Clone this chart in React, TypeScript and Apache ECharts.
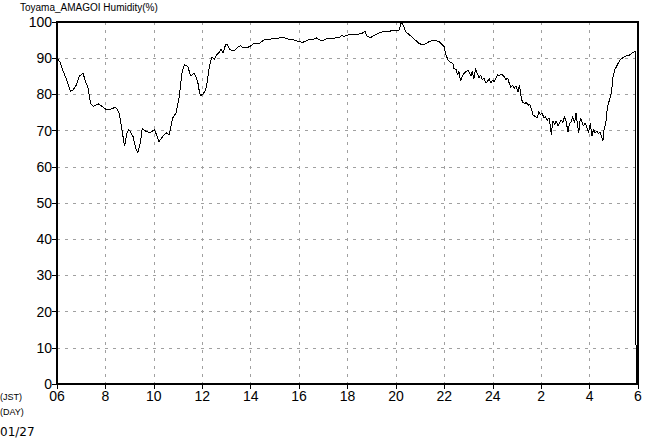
import React, { useEffect, useRef } from "react";
import * as echarts from "echarts";

const titleText = "Toyama_AMAGOI Humidity(%)";
const tickLabels = ["06", "8", "10", "12", "14", "16", "18", "20", "22", "24", "2", "4", "6"];

// hours counted from 0:00 of 01/27 (6 = 06 JST, 30 = 6 JST next day)
const hours = [
  6.0, 6.12, 6.26, 6.4, 6.56, 6.67, 6.81, 6.92, 7.08, 7.15, 7.29, 7.38, 7.49, 7.7, 7.9,
  8.04, 8.25, 8.42, 8.56, 8.66, 8.79, 8.89, 8.97, 9.14, 9.25, 9.34, 9.44, 9.52, 9.68, 9.85,
  10.03, 10.21, 10.37, 10.51, 10.64, 10.78, 10.92, 11.05, 11.16, 11.26, 11.4, 11.53, 11.67, 11.81, 11.88, 11.93,
  12.04, 12.14, 12.22, 12.27, 12.34, 12.41, 12.49, 12.59, 12.68, 12.77, 12.86, 12.96,
  13.04, 13.14, 13.23, 13.37, 13.48, 13.59, 13.68, 13.82, 13.96,
  14.1, 14.23, 14.37, 14.51, 14.64, 14.78, 14.92, 15.12, 15.33, 15.47, 15.6, 15.81, 15.95,
  16.16, 16.3, 16.44, 16.57, 16.71, 16.84, 16.98, 17.12, 17.32, 17.52, 17.66, 17.77, 17.86,
  18.07, 18.27, 18.48, 18.61, 18.72, 18.82, 18.95, 19.09, 19.29, 19.5, 19.7, 19.84, 19.97,
  20.14, 20.21, 20.27, 20.41, 20.62, 20.82, 20.96, 21.16, 21.37, 21.58, 21.78, 21.99,
  22.07, 22.15, 22.25, 22.35, 22.39, 22.49, 22.54, 22.6, 22.67, 22.74, 22.81, 22.9, 22.99,
  23.04, 23.11, 23.15, 23.22, 23.29, 23.36, 23.43, 23.5, 23.57, 23.64, 23.71, 23.78, 23.85, 23.92, 23.99,
  24.06, 24.13, 24.19, 24.26, 24.38, 24.47, 24.54, 24.61, 24.68, 24.75, 24.82, 24.89, 24.96,
  25.04, 25.1, 25.19, 25.25, 25.33, 25.38, 25.47, 25.52, 25.6, 25.66, 25.74, 25.84, 25.9, 25.97,
  26.04, 26.11, 26.18, 26.25, 26.32, 26.38, 26.42, 26.48, 26.56, 26.62, 26.7, 26.75, 26.84, 26.89, 26.97,
  27.03, 27.11, 27.16, 27.25, 27.3, 27.38, 27.44, 27.49, 27.55, 27.62, 27.68, 27.75, 27.82, 27.89, 27.96,
  28.03, 28.1, 28.16, 28.23, 28.3, 28.37, 28.44, 28.51, 28.55, 28.6, 28.67, 28.71, 28.75, 28.84, 28.9, 28.97,
  29.04, 29.15, 29.25, 29.45, 29.66, 29.79, 29.9, 29.92,
];

const humidity = [
  90, 89, 86.3, 84, 80.8, 81.3, 82.7, 85, 85.9, 84, 81.7, 77.6, 76.7, 77.4, 76.5,
  75.8, 76, 76.5, 75, 71.2, 65.7, 69.4, 70.3, 68.4, 65.2, 64, 66.6, 70.5, 69.8, 69.4,
  70.3, 67, 68.4, 69.4, 68.9, 73.5, 74.9, 79.4, 85.9, 88.2, 87.7, 85, 85.9, 83.6, 80.8, 79.6,
  80.2, 81.1, 84, 86.8, 89.1, 90.3, 89.7, 90.9, 91.4, 92.5, 91.4, 93.7,
  93.7, 92.5, 92, 92.3, 93.2, 93.4, 92.8, 92.9, 93.2,
  93.9, 94.1, 94.1, 94.9, 95.3, 95.2, 95.5, 95.5, 95.8, 95.5, 95.2, 95, 94.6,
  94.4, 94.8, 95.3, 95.1, 95.6, 95.1, 94.8, 95.3, 95.4, 95.6, 95.7, 96.3, 96,
  96.5, 96.5, 96.7, 96.9, 97.4, 96, 95.7, 96.3, 96.9, 97.4, 97.4, 97.6, 97.6,
  97.8, 99.8, 99.6, 97.3, 96.1, 94.9, 94, 93.7, 94.6, 95, 94.6, 93.2,
  90.9, 89.5, 88.9, 88.6, 87.2, 86.8, 85.4, 86.3, 83.7, 84.9, 85.8, 86.3, 86.8,
  85.8, 85.2, 86.5, 84.4, 87.2, 85.8, 84.6, 85.4, 84, 84.6, 83.1, 83.5, 84.4, 83.1, 84,
  83.5, 84.4, 85.4, 85.2, 85.6, 84.9, 84, 84.6, 83.1, 81.9, 82.6, 81.7, 82.4,
  80.7, 82.6, 78.5, 77.8, 77.4, 77.8, 76.9, 77.4, 76, 74.4, 73.9, 73.5, 75.3, 74.4,
  74.9, 73.5, 73.9, 72.8, 73.5, 71.2, 68.9, 72.6, 71.7, 72.6, 71.2, 72.1, 73, 72.1, 73.9,
  72.6, 69.5, 71.7, 72.6, 73.9, 72.1, 74.9, 72.1, 69.4, 73.5, 72.6, 71.2, 72.1, 70.7, 69.4,
  72.1, 68.4, 70.3, 69.4, 69.9, 69.2, 69.6, 68, 67.1, 70.3, 72.1, 74.9, 76.7, 79, 80.4, 85,
  86.8, 88.2, 89.5, 90.5, 90.9, 91.6, 91.8, 0,
];

export default function App() {
  const ref = useRef<HTMLDivElement>(null);

  useEffect(() => {
    if (!ref.current) return;
    const chart = echarts.init(ref.current, null, { renderer: "svg" });
    const data = hours.map((h, i) => [h, humidity[i]]);
    const gridDash = { color: "#a0a0a0", width: 1, type: [3, 5] as number[] };
    const borderDash = { color: "#000", width: 2, type: [4, 2] as number[] };
    const labelFont = { color: "#000", fontSize: 14, fontFamily: "Liberation Sans" };

    chart.setOption({
      animation: false,
      backgroundColor: "#fff",
      grid: { left: 57, right: 9, top: 22, bottom: 55, containLabel: false },
      xAxis: [
        {
          type: "value",
          position: "bottom",
          min: 6,
          max: 30,
          interval: 2,
          axisLine: { show: true, onZero: false, lineStyle: borderDash },
          axisTick: { show: true, length: 5, lineStyle: { color: "#000", width: 1 } },
          axisLabel: {
            ...labelFont,
            margin: 5,
            formatter: (v: number) => tickLabels[Math.round((v - 6) / 2)] ?? "",
          },
          splitLine: { show: true, lineStyle: gridDash },
        },
        {
          type: "value",
          position: "top",
          min: 6,
          max: 30,
          interval: 2,
          axisLine: { show: true, onZero: false, lineStyle: borderDash },
          axisTick: { show: false },
          axisLabel: { show: false },
          splitLine: { show: false },
        },
      ],
      yAxis: [
        {
          type: "value",
          position: "left",
          min: 0,
          max: 100,
          interval: 10,
          axisLine: { show: true, onZero: false, lineStyle: { color: "#000", width: 2 } },
          axisTick: { show: true, length: 5, lineStyle: { color: "#000", width: 1 } },
          axisLabel: { ...labelFont, margin: 5 },
          splitLine: { show: true, lineStyle: gridDash },
        },
        {
          type: "value",
          position: "right",
          min: 0,
          max: 100,
          interval: 10,
          axisLine: { show: true, onZero: false, lineStyle: borderDash },
          axisTick: { show: false },
          axisLabel: { show: false },
          splitLine: { show: false },
        },
      ],
      series: [
        {
          type: "line",
          data,
          showSymbol: false,
          symbol: "none",
          lineStyle: { color: "#000", width: 1 },
          z: 5,
        },
      ],
      graphic: [
        {
          type: "text",
          left: 20,
          top: 2,
          style: { text: titleText, fontSize: 10, fontFamily: "Liberation Sans", fill: "#000" },
        },
        {
          type: "text",
          left: 0,
          top: 392,
          style: { text: "(JST)", fontSize: 9, fontFamily: "Liberation Sans", fill: "#000" },
        },
        {
          type: "text",
          left: 0,
          top: 407,
          style: { text: "(DAY)", fontSize: 9, fontFamily: "Liberation Sans", fill: "#000" },
        },
        {
          type: "text",
          left: 0,
          top: 426,
          style: { text: "01/27", fontSize: 12, fontFamily: "DejaVu Sans", fill: "#000" },
        },
      ],
    });
    return () => chart.dispose();
  }, []);

  return (
    <>
      <style>{`.chartbox svg path { shape-rendering: crispEdges; }`}</style>
      <div
        ref={ref}
        className="chartbox"
        style={{ position: "fixed", left: 0, top: 0, width: 647, height: 439, background: "#fff" }}
      />
    </>
  );
}
